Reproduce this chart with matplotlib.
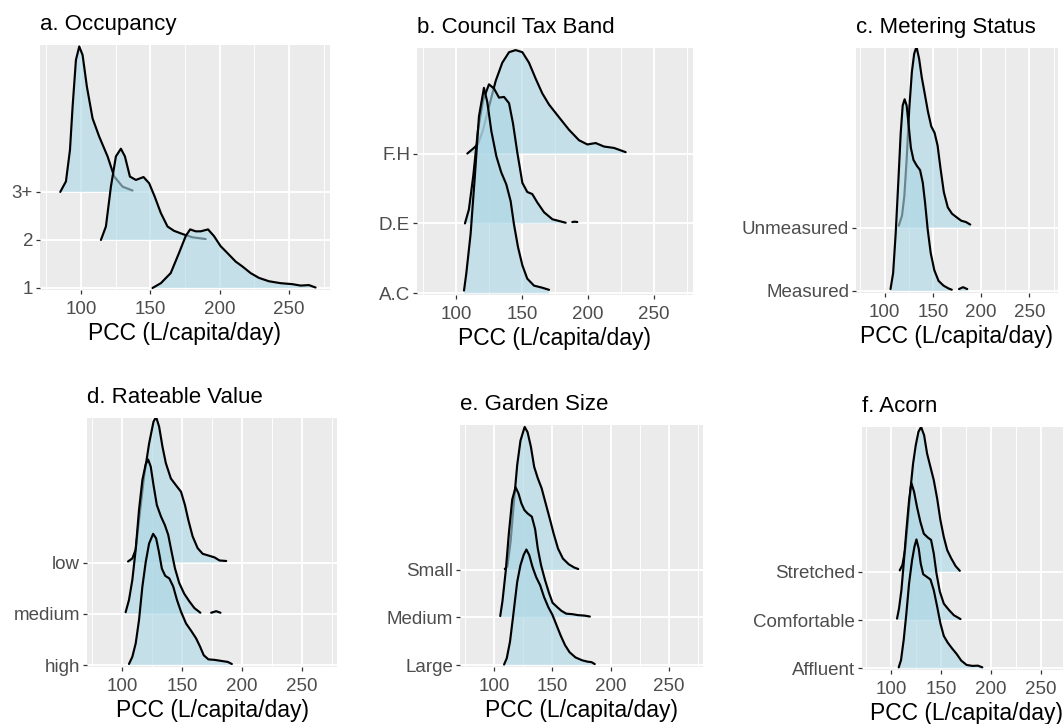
import numpy as np
import matplotlib as mpl
from matplotlib import pyplot as plt
from matplotlib.ticker import FixedLocator

mpl.rcParams['font.family'] = ['Liberation Sans', 'DejaVu Sans']

##########################################################################################
# ridge outlines: x = PCC (L/capita/day), h = ridge height in units of the row spacing

# a. Occupancy
occ_levels = ['1', '2', '3+']
occ_1_x = [151.6, 157.6, 164.7, 170.7, 175.5, 178.7, 182.7, 186.3, 191.6, 195.9, 200.7,
           205.5, 211.5, 216.3, 222.3, 228.3, 235.5, 243.9, 252.3, 258.3, 264.3, 269.1]
occ_1_h = [0.0, 0.10, 0.31, 0.73, 1.08, 1.22, 1.18, 1.18, 1.22, 1.08, 0.87,
           0.73, 0.55, 0.45, 0.31, 0.21, 0.14, 0.10, 0.08, 0.05, 0.06, 0.01]
occ_2_x = [114.4, 118.0, 121.6, 125.2, 128.8, 131.7, 135.3, 139.6, 145.1, 149.2, 153.2,
           157.6, 162.4, 167.1, 173.1, 180.3, 189.9]
occ_2_h = [0.0, 0.28, 1.11, 1.74, 1.90, 1.74, 1.32, 1.25, 1.31, 1.18, 0.90,
           0.56, 0.28, 0.19, 0.125, 0.056, 0.02]
occ_3_x = [85.1, 89.2, 92.1, 94.0, 96.4, 98.8, 101.2, 104.3, 108.4, 113.2, 119.2,
           124.0, 130.0, 137.2]
occ_3_h = [0.0, 0.22, 0.875, 1.78, 2.75, 3.03, 2.85, 2.19, 1.53, 1.15, 0.74,
           0.32, 0.11, 0.03]

# b. Council Tax Band
ctb_levels = ['A.C', 'D.E', 'F.H']
ctb_ac_x = [106.1, 107.8, 111.1, 114.4, 117.4, 121.2, 123.7, 126.8, 130.6, 134.3, 138.1,
            141.4, 143.9, 147.0, 150.3, 154.0, 159.1, 165.4, 170.5]
ctb_ac_h = [0.04, 0.28, 0.85, 1.70, 2.53, 2.94, 2.74, 2.32, 1.96, 1.73, 1.56,
            1.32, 0.99, 0.66, 0.40, 0.21, 0.11, 0.08, 0.05]
ctb_de_x = [106.8, 109.8, 113.1, 116.7, 120.5, 125.0, 128.8, 132.6, 136.4, 140.2, 143.2,
            146.5, 150.3, 154.0, 157.8, 161.6, 166.7, 173.0, 183.1]
ctb_de_h = [0.0, 0.20, 0.68, 1.34, 1.76, 1.99, 1.93, 1.80, 1.81, 1.72, 1.43,
            1.01, 0.58, 0.45, 0.42, 0.30, 0.16, 0.06, 0.01]
ctb_de_tail_x = [188.1, 190.0, 191.9]
ctb_de_tail_h = [0.02, 0.025, 0.02]
ctb_fh_x = [108.6, 113.6, 116.9, 120.5, 125.0, 130.1, 135.1, 140.2, 145.2, 150.3, 155.3,
            160.4, 165.4, 170.5, 178.0, 185.6, 193.2, 199.5, 205.8, 212.1, 219.7, 228.5]
ctb_fh_h = [0.0, 0.08, 0.14, 0.34, 0.67, 1.04, 1.30, 1.45, 1.48, 1.45, 1.30,
            1.07, 0.86, 0.70, 0.52, 0.34, 0.19, 0.13, 0.15, 0.10, 0.08, 0.02]

# c. Metering Status
met_levels = ['Measured', 'Unmeasured']
met_m_x = [106.2, 108.9, 111.6, 114.4, 116.7, 118.8, 120.8, 122.9, 124.9, 127.3, 130.0,
           133.4, 136.8, 139.6, 142.0, 144.7, 147.8, 151.5, 155.9, 161.0, 166.2, 169.6]
met_m_h = [0.03, 0.28, 0.92, 1.76, 2.48, 2.93, 3.03, 2.93, 2.63, 2.26, 2.07,
           1.98, 1.91, 1.71, 1.39, 0.97, 0.60, 0.33, 0.16, 0.085, 0.04, 0.02]
met_m_tail_x = [177.1, 181.2, 185.6]
met_m_tail_h = [0.03, 0.06, 0.03]
met_u_x = [114.7, 118.1, 120.5, 122.9, 125.6, 128.3, 130.7, 133.1, 135.8, 138.5, 141.6,
           145.0, 148.4, 151.8, 154.9, 158.0, 161.4, 165.5, 169.9, 175.0, 179.4, 184.2, 188.7]
met_u_h = [0.03, 0.19, 0.50, 1.08, 1.88, 2.46, 2.75, 2.86, 2.67, 2.38, 2.12,
           1.83, 1.60, 1.50, 1.30, 0.93, 0.56, 0.32, 0.22, 0.16, 0.11, 0.09, 0.05]

# d. Rateable Value
rv_levels = ['high', 'medium', 'low']
rv_high_x = [105.6, 108.4, 111.2, 114.0, 116.8, 119.6, 122.4, 125.8, 128.3, 130.6, 133.1,
             135.9, 139.3, 142.6, 145.7, 149.1, 153.3, 157.5, 161.7, 165.0, 168.1, 172.0,
             177.1, 182.7, 188.2, 191.6]
rv_high_h = [0.02, 0.16, 0.42, 0.88, 1.53, 2.01, 2.37, 2.56, 2.47, 2.21, 1.88,
             1.74, 1.69, 1.53, 1.27, 1.04, 0.81, 0.67, 0.52, 0.36, 0.19, 0.11,
             0.10, 0.08, 0.06, 0.02]
rv_med_x = [102.8, 105.6, 108.4, 111.2, 114.0, 116.8, 119.6, 121.6, 123.8, 126.1, 128.9,
            132.3, 135.6, 138.4, 141.2, 144.0, 147.6, 151.8, 156.1, 160.3, 165.3]
rv_med_h = [0.03, 0.27, 0.66, 1.25, 2.03, 2.61, 2.92, 3.01, 2.87, 2.51, 2.12,
            1.90, 1.73, 1.54, 1.21, 0.89, 0.60, 0.39, 0.24, 0.11, 0.02]
rv_med_tail_x = [174.3, 178.5, 182.1]
rv_med_tail_h = [0.02, 0.05, 0.02]
rv_low_x = [104.8, 108.4, 111.2, 114.0, 118.2, 122.4, 126.1, 128.3, 130.8, 133.6, 136.4,
            140.6, 144.8, 149.1, 152.4, 155.2, 158.8, 163.0, 167.2, 172.9, 177.1, 181.3, 186.9]
rv_low_h = [0.02, 0.08, 0.25, 0.83, 1.68, 2.32, 2.75, 2.84, 2.65, 2.26, 1.94,
            1.64, 1.51, 1.38, 1.12, 0.83, 0.51, 0.28, 0.17, 0.13, 0.10, 0.04, 0.03]

# e. Garden Size
gs_levels = ['Large', 'Medium', 'Small']
gs_large_x = [108.4, 110.7, 113.5, 116.3, 119.7, 122.5, 125.3, 127.6, 130.1, 132.9, 136.0,
              139.4, 142.8, 146.4, 150.1, 153.5, 157.1, 160.8, 164.7, 169.8, 175.4, 180.2,
              183.6, 186.4]
gs_large_h = [0.01, 0.14, 0.49, 1.05, 1.75, 2.10, 2.32, 2.43, 2.31, 2.06, 1.85,
              1.68, 1.43, 1.22, 1.05, 0.84, 0.62, 0.42, 0.27, 0.16, 0.10, 0.07,
              0.06, 0.02]
gs_med_x = [105.1, 107.0, 109.8, 112.6, 115.4, 118.3, 120.8, 123.3, 125.9, 128.6, 132.3,
            135.1, 137.4, 140.2, 143.6, 147.0, 150.1, 154.0, 157.7, 161.9, 167.0, 171.8,
            177.4, 182.2]
gs_med_h = [0.03, 0.34, 0.97, 1.79, 2.48, 2.74, 2.61, 2.40, 2.26, 2.19, 2.12,
            1.86, 1.45, 1.10, 0.79, 0.52, 0.31, 0.22, 0.14, 0.08, 0.07, 0.05,
            0.04, 0.02]
gs_small_x = [109.0, 111.2, 114.0, 116.8, 119.7, 122.5, 126.1, 128.6, 131.5, 134.3, 137.4,
              140.7, 144.4, 147.8, 151.1, 154.8, 159.0, 164.0, 168.8, 172.2]
gs_small_h = [0.02, 0.07, 0.59, 1.41, 2.21, 2.72, 3.01, 2.90, 2.59, 2.17, 1.93,
              1.72, 1.38, 1.07, 0.76, 0.45, 0.24, 0.12, 0.05, 0.02]

# f. Acorn
ac_levels = ['Affluent', 'Comfortable', 'Stretched']
ac_aff_x = [107.4, 109.7, 112.4, 115.1, 117.8, 120.8, 123.2, 125.2, 127.5, 129.5, 132.0,
            135.3, 139.3, 142.6, 146.0, 149.3, 152.7, 156.7, 161.1, 165.5, 170.2, 175.6,
            181.3, 187.0, 191.4]
ac_aff_h = [0.02, 0.17, 0.59, 1.14, 1.76, 2.24, 2.52, 2.67, 2.48, 2.17, 1.95,
            1.90, 1.84, 1.62, 1.28, 0.93, 0.67, 0.53, 0.41, 0.30, 0.16, 0.07,
            0.05, 0.055, 0.02]
ac_com_x = [105.7, 107.7, 110.1, 112.4, 115.1, 117.8, 120.1, 122.8, 125.8, 129.2, 132.6,
            136.6, 139.9, 142.6, 145.3, 148.7, 152.7, 157.8, 162.8, 169.5]
ac_com_h = [0.03, 0.24, 0.62, 1.17, 1.86, 2.48, 2.84, 2.66, 2.34, 2.03, 1.79,
            1.71, 1.66, 1.38, 0.97, 0.59, 0.34, 0.21, 0.10, 0.02]
ac_str_x = [108.4, 111.1, 113.8, 116.4, 119.1, 121.8, 124.5, 127.2, 129.9, 132.9, 135.9,
            139.3, 142.6, 146.0, 149.3, 152.7, 156.1, 160.1, 164.5, 168.8]
ac_str_h = [0.03, 0.14, 0.45, 1.00, 1.69, 2.24, 2.62, 2.90, 3.00, 2.83, 2.45,
            2.17, 1.90, 1.52, 1.07, 0.72, 0.45, 0.28, 0.12, 0.02]

xTicks = [100, 150, 200, 250]
xMinor = [75, 125, 175, 225, 275]

##########################################################################################
# panel setup: ridges listed bottom row first, tails are (row index, x, h)

panels = [
    dict(title = 'a. Occupancy', levels = occ_levels,
         ridges = [(occ_1_x, occ_1_h), (occ_2_x, occ_2_h), (occ_3_x, occ_3_h)],
         tails = []),
    dict(title = 'b. Council Tax Band', levels = ctb_levels,
         ridges = [(ctb_ac_x, ctb_ac_h), (ctb_de_x, ctb_de_h), (ctb_fh_x, ctb_fh_h)],
         tails = [(1, ctb_de_tail_x, ctb_de_tail_h)]),
    dict(title = 'c. Metering Status', levels = met_levels,
         ridges = [(met_m_x, met_m_h), (met_u_x, met_u_h)],
         tails = [(0, met_m_tail_x, met_m_tail_h)]),
    dict(title = 'd. Rateable Value', levels = rv_levels,
         ridges = [(rv_high_x, rv_high_h), (rv_med_x, rv_med_h), (rv_low_x, rv_low_h)],
         tails = [(1, rv_med_tail_x, rv_med_tail_h)]),
    dict(title = 'e. Garden Size', levels = gs_levels,
         ridges = [(gs_large_x, gs_large_h), (gs_med_x, gs_med_h), (gs_small_x, gs_small_h)],
         tails = []),
    dict(title = 'f. Acorn', levels = ac_levels,
         ridges = [(ac_aff_x, ac_aff_h), (ac_com_x, ac_com_h), (ac_str_x, ac_str_h)],
         tails = []),
]

# panel boxes in pixels (left, top, right, bottom) and y ranges
W, H = 1063, 724
boxes = [(40, 45, 330, 290), (417, 48, 693, 295), (856, 48, 1058, 293),
         (87, 418, 337, 667), (460, 425, 703, 667), (862, 427, 1070, 670)]
yRanges = [(0.958, 6.06), (0.976, 4.51), (0.968, 4.84),
           (0.961, 5.82), (0.958, 6.05), (0.965, 6.0)]

FILL = '#ADD8E6'
PANEL_BG = '#EBEBEB'

def drawRidge(ax, base, x, h, z):
    x = np.asarray(x, dtype = float)
    y = base + np.asarray(h, dtype = float)
    ax.fill_between(x, base, y, facecolor = FILL, alpha = 0.62, lw = 0, zorder = z)
    ax.plot(x, y, color = 'black', lw = 1.55, zorder = z + 0.5,
            solid_joinstyle = 'round', solid_capstyle = 'round')

fig = plt.figure(figsize = (W / 100.0, H / 100.0), dpi = 100)

for p, (L, T, R, B), ylim in zip(panels, boxes, yRanges):
    ax = fig.add_axes([L / W, 1.0 - B / H, (R - L) / W, (B - T) / H])
    ax.set_facecolor(PANEL_BG)
    for s in ax.spines.values():
        s.set_visible(False)

    n = len(p['levels'])
    # top row is drawn first so lower rows sit in front of it
    for i in reversed(range(n)):
        z = 2 + 2 * (n - 1 - i)
        x, h = p['ridges'][i]
        drawRidge(ax, i + 1, x, h, z)
        for (j, tx, th) in p['tails']:
            if j == i:
                drawRidge(ax, i + 1, tx, th, z)

    ax.set_xlim(70.5, 279.5)
    ax.set_ylim(*ylim)
    ax.set_xticks(xTicks)
    ax.xaxis.set_minor_locator(FixedLocator(xMinor))
    ax.set_yticks(range(1, n + 1))
    ax.set_yticklabels(p['levels'])

    ax.set_axisbelow(True)
    ax.grid(which = 'major', color = 'white', lw = 1.3)
    ax.grid(which = 'minor', axis = 'x', color = 'white', lw = 0.65)

    ax.tick_params(which = 'major', length = 3.0, width = 0.9, color = '#333333',
                   labelcolor = '#4D4D4D', labelsize = 13.5)
    ax.tick_params(axis = 'x', which = 'major', pad = 5.0)
    ax.tick_params(axis = 'y', which = 'major', pad = 2.0)
    ax.tick_params(which = 'minor', length = 0)

    ax.set_xlabel('PCC (L/capita/day)', fontsize = 16.5, labelpad = 2.5)
    ax.set_title(p['title'], loc = 'left', fontsize = 16, pad = 11.0)

fig.savefig('out.png', dpi = 100)
